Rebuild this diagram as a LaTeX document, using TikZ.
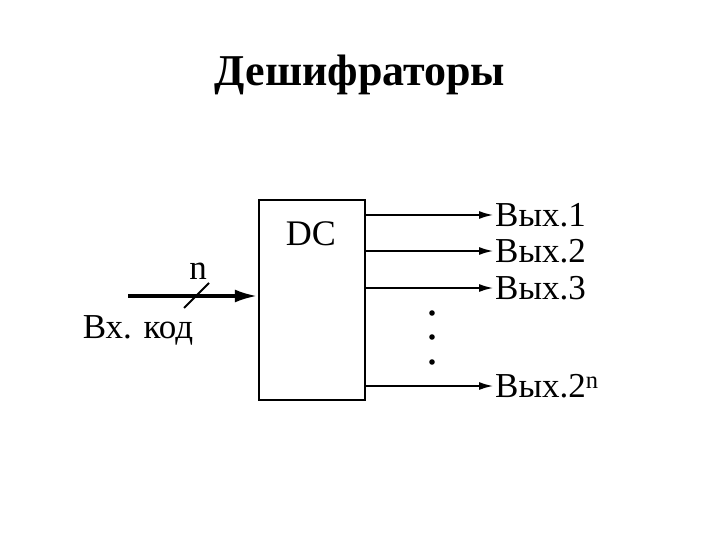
\documentclass[tikz,border=0pt]{standalone}
\usepackage{fontspec}
\setmainfont{Liberation Serif}
\usetikzlibrary{arrows.meta,positioning,calc}

\begin{document}
\begin{tikzpicture}[x=1pt,y=-1pt,font=\fontsize{35}{38}\selectfont,dcbox/.style={draw,line width=2.4pt,minimum width=106pt,minimum height=200pt,inner sep=0pt},outlbl/.style={anchor=west,inner sep=1pt},arr/.style={-{Latex[length=15pt,width=8pt]},line width=2.4pt},inarr/.style={-{Latex[length=23pt,width=13pt]},line width=3.8pt}]
\useasboundingbox (0,0) rectangle (720,540);
\node[font=\fontsize{44}{50}\selectfont\bfseries] (title) at (360,75){Дешифраторы};
\node[dcbox] (dc) at (312,300){};
\node[font=\fontsize{36}{40}\selectfont] (dclbl) at (311,234){DC};
\node[outlbl] (o1) at (494,215){Вых.1};\node[outlbl] (o2) at (494,251){Вых.2};\node[outlbl] (o3) at (494,288){Вых.3};\node[outlbl] (on) at (494,386){Вых.2\textsuperscript{n}};
\draw[arr] (dc.east |- o1.west) -- (o1.west);\draw[arr] (dc.east |- o2.west) -- (o2.west);\draw[arr] (dc.east |- o3.west) -- (o3.west);\draw[arr] (dc.east |- on.west) -- (on.west);
\foreach \y in {313,337,362} \fill (432,\y) circle (2.8);
\coordinate (in) at (128,296);
\draw[inarr] (in) -- (in -| dc.west);
\draw[line width=1.8pt] (184,308) -- (209,283);
\node (nlbl) at (198,271){n};
\node (inlbl) at (138,330){Вх. код};
\end{tikzpicture}
\end{document}
